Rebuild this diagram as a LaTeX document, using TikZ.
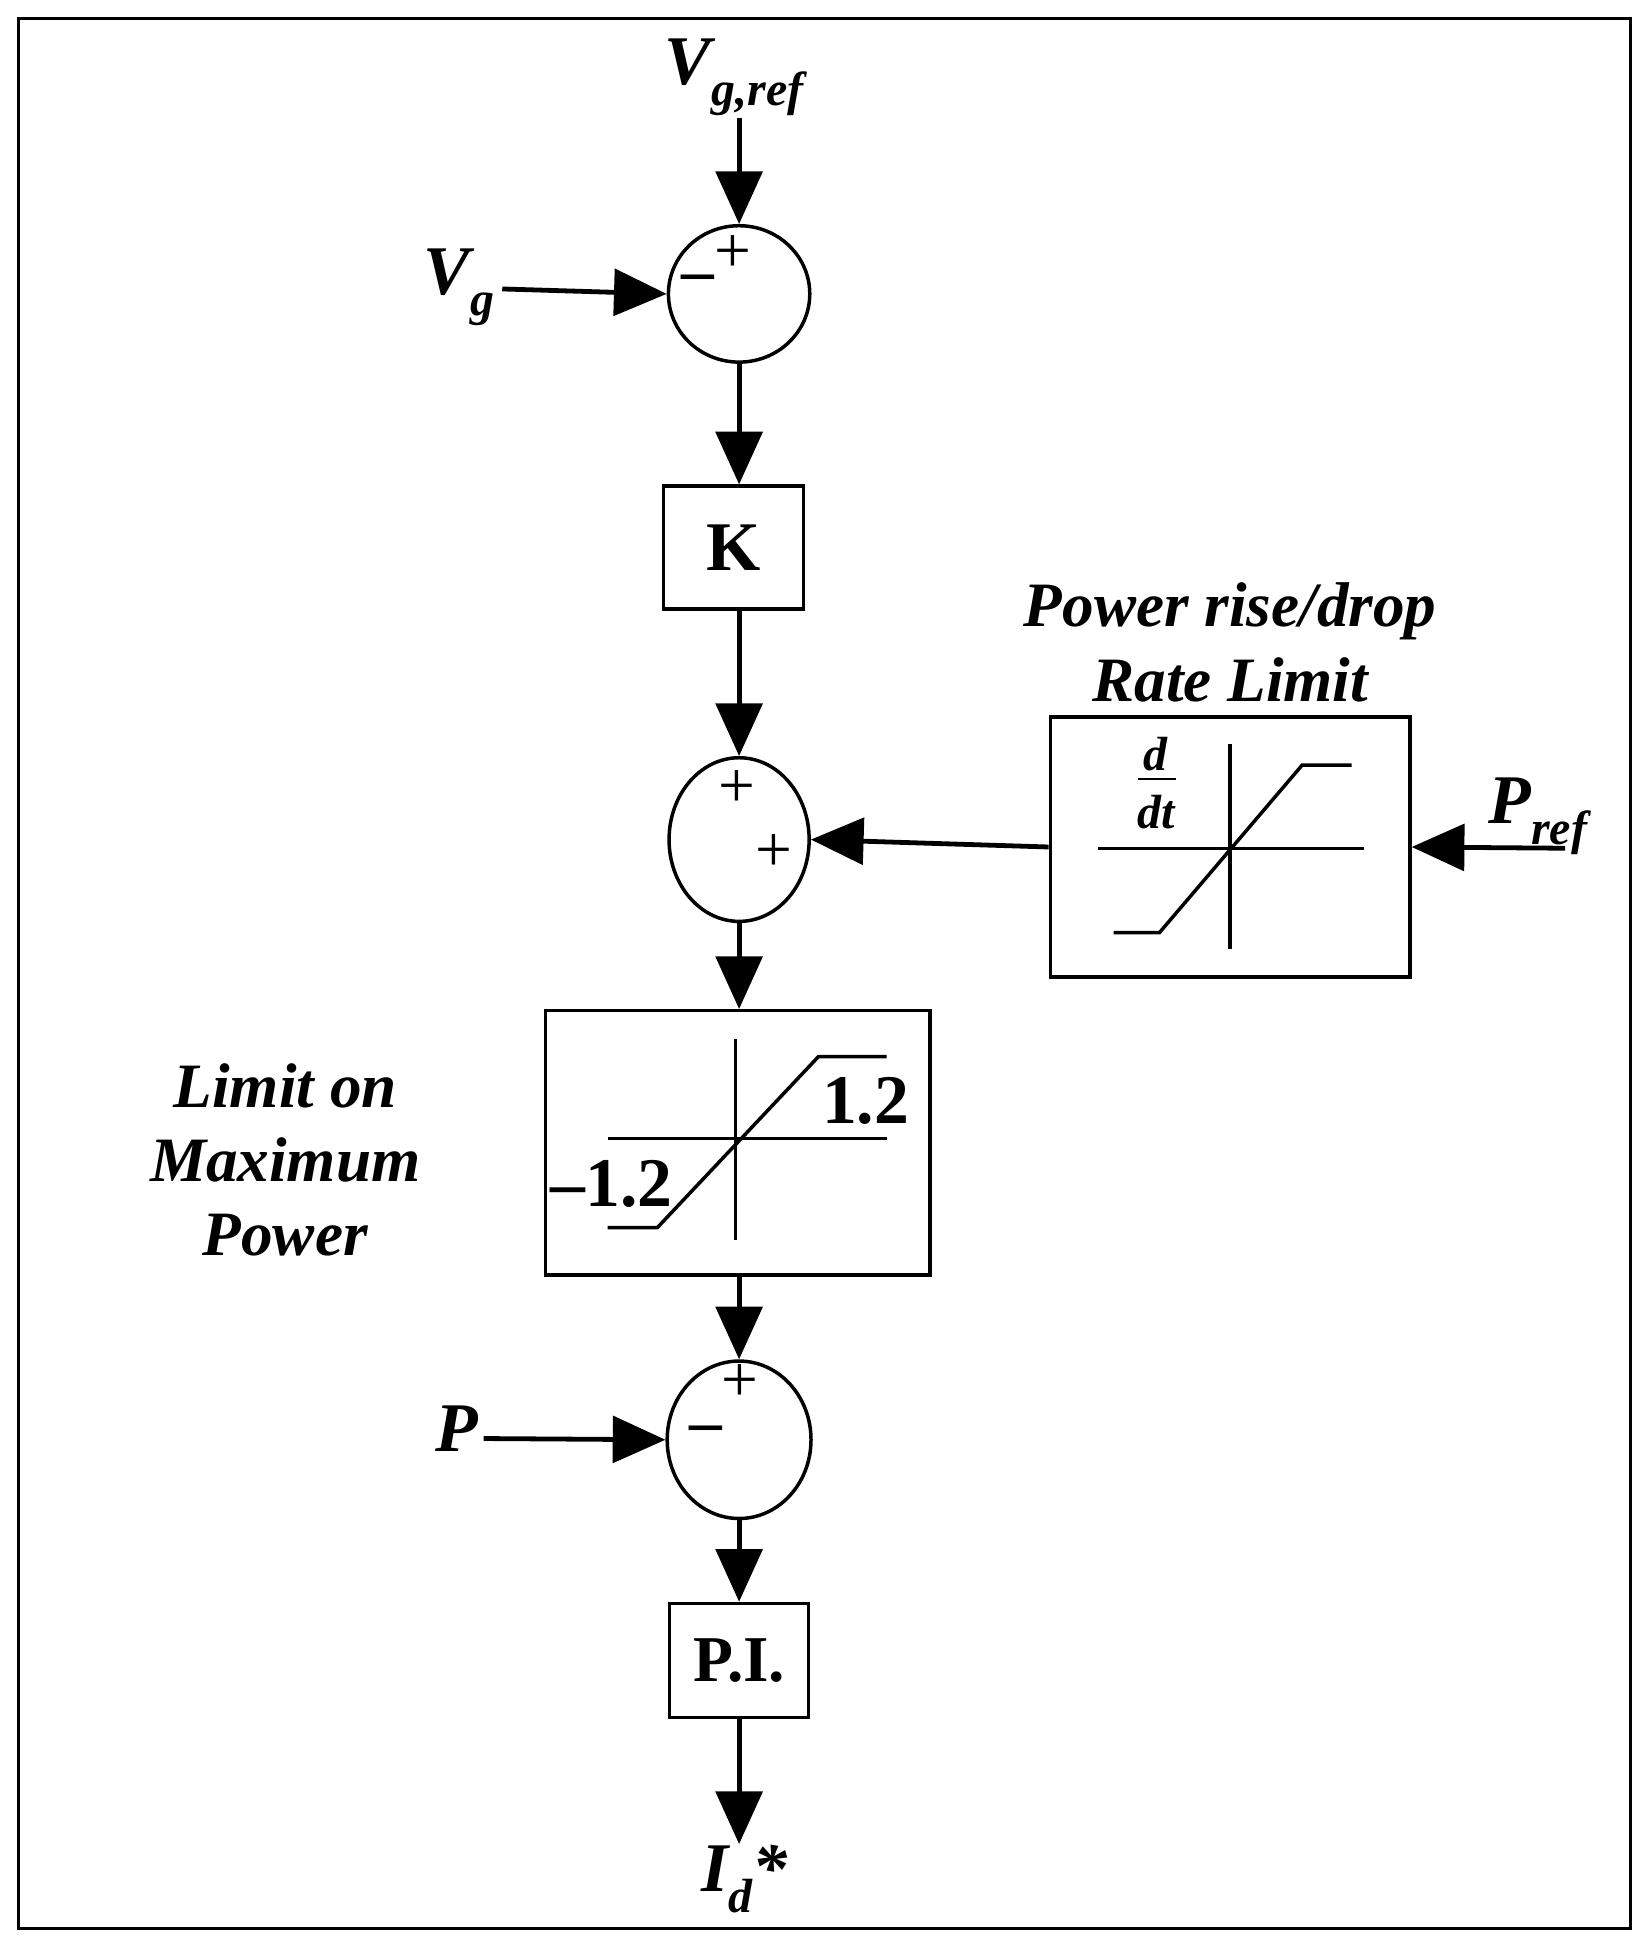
\documentclass[tikz,border=0pt]{standalone}
\usepackage{fontspec}
\setmainfont{Liberation Serif}
\usetikzlibrary{arrows.meta,shapes.geometric}
\newcommand{\mysub}[1]{\raisebox{-0.3em}{\fontsize{22}{24}\selectfont #1}}
\begin{document}
\begin{tikzpicture}[x=0.02cm,y=-0.02cm,
  line width=2.2pt,
  arr/.style={-{Triangle[length=0.85cm,width=0.75cm]}},
  blk/.style={draw,line width=1.6pt},
  lbl/.style={font=\fontsize{32}{36}\selectfont\bfseries\itshape},
  ttl/.style={font=\fontsize{29}{34}\selectfont\bfseries\itshape,align=center},
  sgn/.style={font=\fontsize{30}{30}\selectfont}]
\useasboundingbox (0,0) rectangle (1330.6,1566);
\draw[line width=1.6pt] (15,15) rectangle (1315,1555);
% nodes
\node[blk,ellipse,minimum width=2.28cm,minimum height=2.2cm,inner sep=0] (s1) at (596,237) {};
\node[blk,ellipse,minimum width=2.26cm,minimum height=2.64cm,inner sep=0] (s2) at (596,677) {};
\node[blk,ellipse,minimum width=2.32cm,minimum height=2.54cm,inner sep=0] (s3) at (596,1161) {};
\node[blk,minimum width=2.26cm,minimum height=1.98cm,font=\fontsize{32}{36}\selectfont\bfseries] (k) at (591.5,441.5) {K};
\node[blk,minimum width=2.24cm,minimum height=1.84cm,font=\fontsize{30}{36}\selectfont\bfseries] (pi) at (596,1339) {P.I.};
\node[blk,minimum width=5.8cm,minimum height=4.2cm] (rl) at (992,683) {};
\node[blk,minimum width=6.2cm,minimum height=4.26cm] (lm) at (595,921.5) {};
% labels
\node[lbl] (vgref) at (592,62) {V\mysub{g,ref}};
\node[lbl] (vg) at (370,232) {V\mysub{g}};
\node[lbl] (p) at (368,1152) {P};
\node[lbl] (pref) at (1240,658) {P\mysub{ref}};
\node[lbl] (id) at (600,1515) {I\mysub{d}*};
\coordinate (vgrefE) at (596,95);
\coordinate (vgE) at (405,233);
\coordinate (pE) at (390,1160);
\coordinate (prefE) at (1262,684);
\coordinate (idE) at (596,1487);
\node[ttl] (t1) at (992,518) {Power rise/drop\\Rate Limit};
\node[ttl] (t2) at (230,935) {Limit on\\Maximum\\Power};
% signs
\node[sgn] at (591,205) {+};
\node[sgn] at (563,229) {\textbf{–}};
\node[sgn] at (594,636) {+};
\node[sgn] at (624,688) {+};
\node[sgn] at (597,1115) {+};
\node[sgn] at (569,1157) {\textbf{–}};
% connectors
\draw[arr] (vgrefE) -- (s1.north);
\draw[arr] (vgE) -- (s1.west);
\draw[arr] (s1.south) -- (k.north -| s1.south);
\draw[arr] (k.south -| s2.north) -- (s2.north);
\draw[arr] (rl.west) -- (s2.east);
\draw[arr] (prefE) -- (rl.east);
\draw[arr] (s2.south) -- (lm.north -| s2.south);
\draw[arr] (lm.south -| s3.north) -- (s3.north);
\draw[arr] (pE) -- (s3.west);
\draw[arr] (s3.south) -- (pi.north);
\draw[arr] (pi.south) -- (idE);
% rate limit graph
\draw[line width=1.6pt] (885,684) -- (1100,684) (992,600) -- (992,765);
\draw[line width=1.6pt] (898,752) -- (935,752) -- (1050,617) -- (1090,617);
\node[font=\fontsize{22}{24}\selectfont\bfseries\itshape] at (932,608) {d};
\draw[line width=1pt] (918,628) -- (948,628);
\node[font=\fontsize{22}{24}\selectfont\bfseries\itshape] at (932,655) {dt};
% limit graph
\draw[line width=1.6pt] (490,918) -- (715,918) (593,838) -- (593,1000);
\draw[line width=1.6pt] (490,990) -- (530,990) -- (660,852) -- (715,852);
\node[font=\fontsize{32}{36}\selectfont\bfseries] at (698,888) {1.2};
\node[font=\fontsize{32}{36}\selectfont\bfseries] at (493,955) {–1.2};
\end{tikzpicture}
\end{document}
